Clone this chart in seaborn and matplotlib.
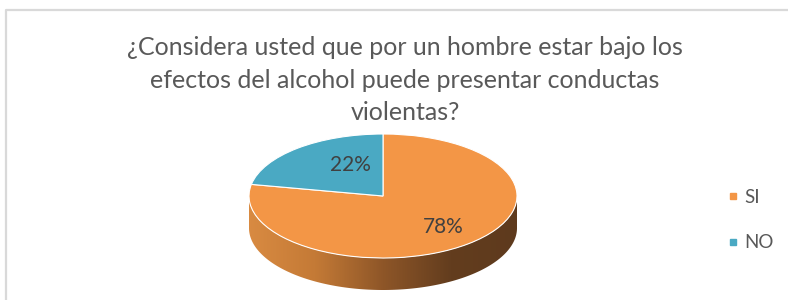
import numpy as np
import matplotlib
matplotlib.use("Agg")
import matplotlib.pyplot as plt
import matplotlib.transforms as mtrans
from matplotlib.patches import Polygon
from matplotlib.lines import Line2D
from matplotlib.colors import LinearSegmentedColormap
import seaborn as sns

# ---- data ----
categories = ["SI", "NO"]
values = [78, 22]
colors = ["#F39646", "#4AA9C3"]
title = "¿Considera usted que por un hombre estar bajo los\nefectos del alcohol puede presentar conductas\nviolentas?"

sns.set_theme(style="white")
plt.rcParams["font.family"] = ["Lato", "DejaVu Sans"]

fig = plt.figure(figsize=(7.88, 3.0), dpi=100)
ax = fig.add_axes([0, 0, 1, 1])

# ellipse geometry (pixel frame)
cx, cy, rx, ry, depth = 383, 196, 134, 62, 32

wedges, texts, autotexts = ax.pie(values, colors=colors, startangle=90, counterclock=False,
                                  autopct="%1.0f%%", pctdistance=0.6,
                                  wedgeprops=dict(edgecolor="white", linewidth=0.8),
                                  textprops=dict(color="#404040", fontsize=15))
ax.set_xlim(0, 788)
ax.set_ylim(300, 0)
ax.set_aspect("auto")
ax.axis("off")

ell = mtrans.Affine2D().scale(rx, -ry).translate(cx, cy) + ax.transData
for w in wedges:
    w.set_transform(ell)
    w.set_zorder(3)
label_pos = [(0.448, -0.5), (-0.246, 0.5)]
for t, p in zip(autotexts, label_pos):
    t.set_transform(ell)
    t.set_position(p)
    t.set_zorder(4)

# side of the 3D pie (front half, all within the SI slice)
th = np.linspace(np.pi, 2 * np.pi, 200)
top = np.column_stack([cx + rx * np.cos(th), cy - ry * np.sin(th)])
bot = top[::-1] + np.array([0, depth])
side = Polygon(np.vstack([top, bot]), closed=True, facecolor="none", edgecolor="none")
ax.add_patch(side)
cmap = LinearSegmentedColormap.from_list("side", ["#D98B42", "#C47A36", "#8E5628", "#633D1E", "#5E3A1D"])
grad = np.linspace(0, 1, 256).reshape(1, -1)
im = ax.imshow(grad, cmap=cmap, aspect="auto",
               extent=(cx - rx - 2, cx + rx + 2, cy + ry + depth + 2, cy - 2), zorder=2)
im.set_clip_path(side)
ax.set_xlim(0, 788)
ax.set_ylim(300, 0)

# title
fig.text(405 / 788, 1 - 36 / 300, title, ha="center", va="top", fontsize=18,
         color="#595959", linespacing=1.5)

# legend
handles = [Line2D([], [], marker="s", linestyle="none", markersize=5, markerfacecolor=c,
                  markeredgecolor=c) for c in colors]
leg = ax.legend(handles, categories, loc="center left", bbox_to_anchor=(710 / 788, 1 - 220 / 300),
                frameon=False, fontsize=13.5, labelspacing=1.5, handlelength=0.6, handletextpad=0.35,
                labelcolor="#595959")

# chart frame
ax.add_line(Line2D([6.5, 6.5, 788], [300, 9.5, 9.5], color="#D9D9D9", linewidth=1.6, zorder=1))

fig.savefig("out.png", dpi=100)
